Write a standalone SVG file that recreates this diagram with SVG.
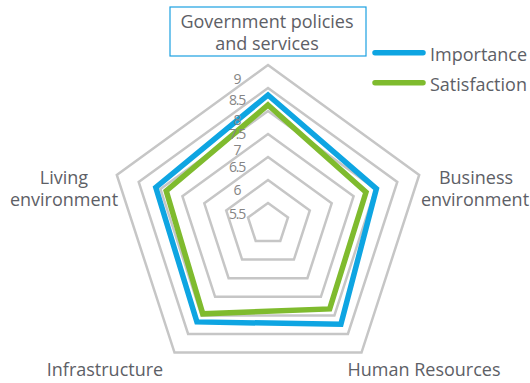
<svg xmlns="http://www.w3.org/2000/svg" width="530" height="383" viewBox="0 0 530 383">
<style>
.ring{fill:none;stroke:#c6c6c6;stroke-width:2.5;stroke-linejoin:miter}
.imp{fill:none;stroke:#0ea5e2;stroke-width:5.5;stroke-linejoin:miter}
.sat{fill:none;stroke:#7fbb2e;stroke-width:5.5;stroke-linejoin:miter}
.lbl{font-family:"Open Sans","Liberation Sans",sans-serif;font-size:18px;fill:#5d6066;text-anchor:middle}
.tick{font-family:"Open Sans","Liberation Sans",sans-serif;font-size:14px;fill:#858585;text-anchor:middle;letter-spacing:-1.2px}
</style>
<rect width="530" height="383" fill="#ffffff"/>
<g id="grid">
<polygon class="ring" points="268,65 419.2,174.9 361.5,352.6 174.5,352.6 116.8,174.9"/>
<polygon class="ring" points="268,88 397.3,182 347.9,334 188.1,334 138.7,182"/>
<polygon class="ring" points="268,111 375.5,189.1 334.4,315.4 201.6,315.4 160.5,189.1"/>
<polygon class="ring" points="268,134 353.6,196.2 320.9,296.8 215.1,296.8 182.4,196.2"/>
<polygon class="ring" points="268,157 331.7,203.3 307.4,278.2 228.6,278.2 204.3,203.3"/>
<polygon class="ring" points="268,180 309.8,210.4 293.9,259.6 242.1,259.6 226.2,210.4"/>
<polygon class="ring" points="268,203 288,217.5 280.3,241 255.7,241 248,217.5"/>
</g>
<g id="connectors">
<polygon id="importance" class="imp" points="268,95 376.4,188.8 340.9,324.3 196.9,321.9 155.8,187.5"/>
<polygon id="satisfaction" class="sat" points="268,105 366,192.2 329.7,308.9 202.8,313.8 166.2,190.9"/>
</g>
<g id="ticks">
<text class="tick" x="237" y="84">9</text>
<text class="tick" x="237" y="105">8.5</text>
<text class="tick" x="237" y="125">8</text>
<text class="tick" x="237" y="139">7.5</text>
<text class="tick" x="237" y="155">7</text>
<text class="tick" x="237" y="172">6.5</text>
<text class="tick" x="237" y="195">6</text>
<text class="tick" x="237" y="219">5.5</text>
</g>
<g id="node-government">
<rect x="170" y="7" width="196" height="49" fill="#ffffff" stroke="#1ba1e2" stroke-width="1.2"/>
<text class="lbl" x="267" y="28">Government policies</text>
<text class="lbl" x="267" y="50">and services</text>
</g>
<g id="node-business">
<text class="lbl" x="476" y="184">Business</text>
<text class="lbl" x="475" y="206">environment</text>
</g>
<g id="node-human">
<text class="lbl" x="424" y="376">Human Resources</text>
</g>
<g id="node-infrastructure">
<text class="lbl" x="105" y="376">Infrastructure</text>
</g>
<g id="node-living">
<text class="lbl" x="64" y="184">Living</text>
<text class="lbl" x="64" y="206">environment</text>
</g>
<g id="legend">
<line x1="375" y1="52.7" x2="423" y2="52.7" stroke="#0ea5e2" stroke-width="5.5" stroke-linecap="round"/>
<text class="lbl" x="430" y="60.5" style="text-anchor:start">Importance</text>
<line x1="375" y1="82.7" x2="423" y2="82.7" stroke="#7fbb2e" stroke-width="5.5" stroke-linecap="round"/>
<text class="lbl" x="430" y="90.5" style="text-anchor:start">Satisfaction</text>
</g>
</svg>
